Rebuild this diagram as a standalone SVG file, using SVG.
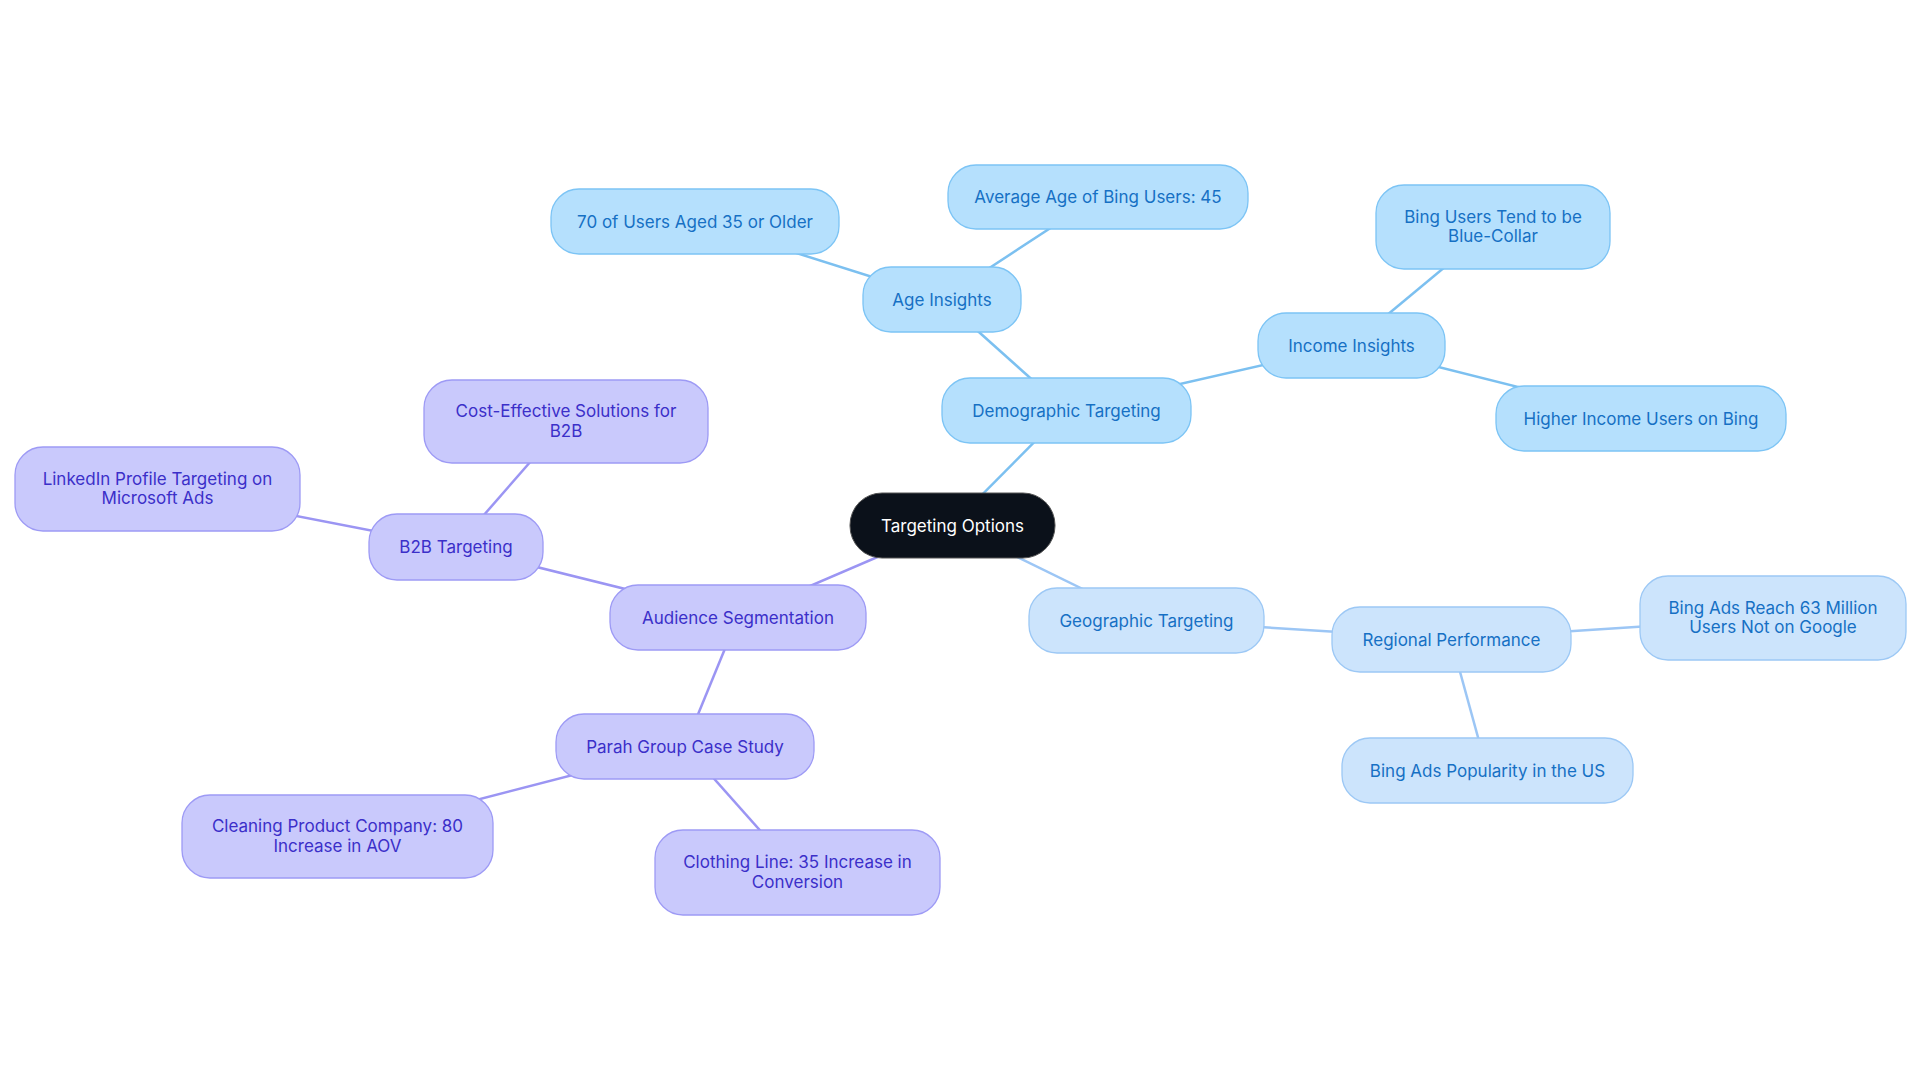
<svg xmlns="http://www.w3.org/2000/svg" width="1920" height="1083" viewBox="0 0 1920 1083">
<style>
text{font-family:Inter,"Noto Sans",sans-serif;font-size:17px;text-anchor:middle;dominant-baseline:central}
.b rect{fill:#b5e0fd;stroke:#7cc4f5;stroke-width:1.3}.b text{fill:#1670c4}
.g rect{fill:#cce4fc;stroke:#9cc8f5;stroke-width:1.3}.g text{fill:#1670c4}
.p rect{fill:#c9c9fc;stroke:#9d9af5;stroke-width:1.3}.p text{fill:#3b2fc9}
.eb{stroke:#7cc0f0}.eg{stroke:#9cc6f5}.ep{stroke:#9b95f3}
#edges line{stroke-width:2.5}
</style>
<rect width="1920" height="1083" fill="#fff"/>
<g id="edges">
<line class="eb" x1="952" y1="525" x2="1066" y2="410"/>
<line class="eb" x1="1066" y1="410" x2="942" y2="299"/>
<line class="eb" x1="942" y1="299" x2="695" y2="221"/>
<line class="eb" x1="942" y1="299" x2="1098" y2="197"/>
<line class="eb" x1="1066" y1="410" x2="1351" y2="345"/>
<line class="eb" x1="1351" y1="345" x2="1493" y2="227"/>
<line class="eb" x1="1351" y1="345" x2="1641" y2="418"/>
<line class="eg" x1="952" y1="525" x2="1146" y2="620"/>
<line class="eg" x1="1146" y1="620" x2="1451" y2="639"/>
<line class="eg" x1="1451" y1="639" x2="1773" y2="618"/>
<line class="eg" x1="1451" y1="639" x2="1487" y2="770"/>
<line class="ep" x1="952" y1="525" x2="738" y2="617"/>
<line class="ep" x1="738" y1="617" x2="456" y2="547"/>
<line class="ep" x1="456" y1="547" x2="566" y2="421"/>
<line class="ep" x1="456" y1="547" x2="157" y2="489"/>
<line class="ep" x1="738" y1="617" x2="685" y2="746"/>
<line class="ep" x1="685" y1="746" x2="337" y2="836"/>
<line class="ep" x1="685" y1="746" x2="797" y2="872"/>
</g>
<g id="root"><rect x="850" y="493" width="205" height="65" rx="32" fill="#0b111a" stroke="#555" stroke-width="1"/><text x="952.5" y="525.5" fill="#fff">Targeting Options</text></g>
<g id="demo" class="b"><rect x="942" y="378" width="249" height="65" rx="28"/><text x="1066.5" y="410.5">Demographic Targeting</text></g>
<g id="age" class="b"><rect x="863" y="267" width="158" height="65" rx="28"/><text x="942" y="299.5">Age Insights</text></g>
<g id="n70" class="b"><rect x="551" y="189" width="288" height="65" rx="28"/><text x="695" y="221.5">70 of Users Aged 35 or Older</text></g>
<g id="avg" class="b"><rect x="948" y="165" width="300" height="64" rx="28"/><text x="1098" y="197">Average Age of Bing Users: 45</text></g>
<g id="income" class="b"><rect x="1258" y="313" width="187" height="65" rx="28"/><text x="1351.5" y="345.5">Income Insights</text></g>
<g id="blue" class="b"><rect x="1376" y="185" width="234" height="84" rx="28"/><text x="1493" y="217">Bing Users Tend to be</text><text x="1493" y="236">Blue-Collar</text></g>
<g id="higher" class="b"><rect x="1496" y="386" width="290" height="65" rx="28"/><text x="1641" y="418.5">Higher Income Users on Bing</text></g>
<g id="geo" class="g"><rect x="1029" y="588" width="235" height="65" rx="28"/><text x="1146.5" y="620.5">Geographic Targeting</text></g>
<g id="regional" class="g"><rect x="1332" y="607" width="239" height="65" rx="28"/><text x="1451.5" y="639.5">Regional Performance</text></g>
<g id="reach" class="g"><rect x="1640" y="576" width="266" height="84" rx="28"/><text x="1773" y="608">Bing Ads Reach 63 Million</text><text x="1773" y="627">Users Not on Google</text></g>
<g id="pop" class="g"><rect x="1342" y="738" width="291" height="65" rx="28"/><text x="1487.5" y="770.5">Bing Ads Popularity in the US</text></g>
<g id="aud" class="p"><rect x="610" y="585" width="256" height="65" rx="28"/><text x="738" y="617.5">Audience Segmentation</text></g>
<g id="b2b" class="p"><rect x="369" y="514" width="174" height="66" rx="28"/><text x="456" y="547">B2B Targeting</text></g>
<g id="cost" class="p"><rect x="424" y="380" width="284" height="83" rx="28"/><text x="566" y="411">Cost-Effective Solutions for</text><text x="566" y="431">B2B</text></g>
<g id="linkedin" class="p"><rect x="15" y="447" width="285" height="84" rx="28"/><text x="157.5" y="479">LinkedIn Profile Targeting on</text><text x="157.5" y="498">Microsoft Ads</text></g>
<g id="parah" class="p"><rect x="556" y="714" width="258" height="65" rx="28"/><text x="685" y="746.5">Parah Group Case Study</text></g>
<g id="cleaning" class="p"><rect x="182" y="795" width="311" height="83" rx="28"/><text x="337.5" y="826">Cleaning Product Company: 80</text><text x="337.5" y="846">Increase in AOV</text></g>
<g id="clothing" class="p"><rect x="655" y="830" width="285" height="85" rx="28"/><text x="797.5" y="862">Clothing Line: 35 Increase in</text><text x="797.5" y="882">Conversion</text></g>
</svg>
